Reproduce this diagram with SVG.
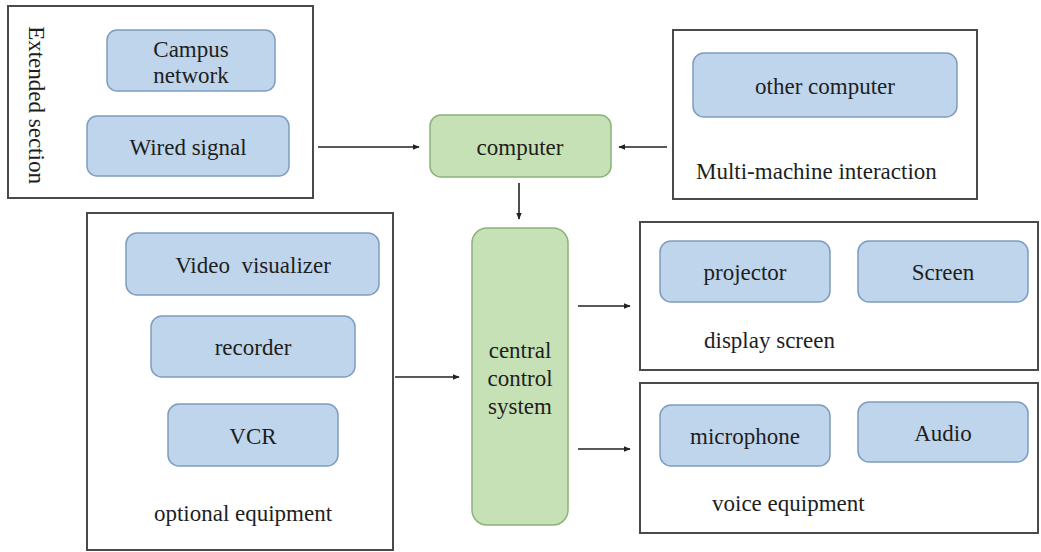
<svg xmlns="http://www.w3.org/2000/svg" width="1041" height="552" viewBox="0 0 1041 552" font-family="'Liberation Serif', 'Times New Roman', serif" font-size="23">
<defs>
<style>
.frame{fill:#fff;stroke:#4a4a4a;stroke-width:2}
.blue{fill:#bfd5ec;stroke:#7f9cc0;stroke-width:1.5}
.green{fill:#c6e1b6;stroke:#8cb37a;stroke-width:1.5}
.t{font-family:'Liberation Serif','Times New Roman',serif;font-size:23px;fill:#1e1e1e;text-anchor:middle;dominant-baseline:central}
.lbl{text-anchor:start}
.conn{stroke:#222;stroke-width:1.6;fill:none;marker-end:url(#ah)}
</style>
<marker id="ah" viewBox="0 0 10 10" refX="9" refY="5" markerWidth="7" markerHeight="7" orient="auto" markerUnits="userSpaceOnUse">
<path d="M0,1 L10,5 L0,9 z" fill="#222"/>
</marker>
</defs>
<rect width="1041" height="552" fill="#fff"/>
<g id="extended-section">
<rect class="frame" x="8" y="6" width="305" height="192"/>
<text class="t" transform="translate(36,105) rotate(90)">Extended section</text>
</g>
<g id="campus-network">
<rect class="blue" x="107" y="30" width="168" height="61" rx="10"/>
<text class="t" x="191" y="49">Campus</text>
<text class="t" x="191" y="75">network</text>
</g>
<g id="wired-signal">
<rect class="blue" x="87" y="116" width="202" height="60" rx="10"/>
<text class="t" x="188" y="147">Wired signal</text>
</g>
<g id="computer">
<rect class="green" x="430" y="115" width="181" height="62" rx="11"/>
<text class="t" x="520" y="147">computer</text>
</g>
<g id="multi-machine-interaction">
<rect class="frame" x="673" y="30" width="304" height="169"/>
<text class="t lbl" x="696" y="171">Multi-machine interaction</text>
</g>
<g id="other-computer">
<rect class="blue" x="693" y="53" width="264" height="64" rx="11"/>
<text class="t" x="825" y="86">other computer</text>
</g>
<g id="optional-equipment">
<rect class="frame" x="87" y="213" width="306" height="337"/>
<text class="t" x="243" y="513">optional equipment</text>
</g>
<g id="video-visualizer">
<rect class="blue" x="126" y="233" width="253" height="62" rx="11"/>
<text class="t" x="253" y="265" xml:space="preserve">Video  visualizer</text>
</g>
<g id="recorder">
<rect class="blue" x="151" y="316" width="204" height="61" rx="11"/>
<text class="t" x="253" y="347">recorder</text>
</g>
<g id="vcr">
<rect class="blue" x="168" y="404" width="170" height="62" rx="11"/>
<text class="t" x="253" y="436">VCR</text>
</g>
<g id="central-control-system">
<rect class="green" x="472" y="228" width="96" height="297" rx="15"/>
<text class="t" x="520" y="350">central</text>
<text class="t" x="520" y="378">control</text>
<text class="t" x="520" y="406">system</text>
</g>
<g id="display-screen">
<rect class="frame" x="640" y="222" width="398" height="148"/>
<text class="t lbl" x="704" y="340">display screen</text>
</g>
<g id="projector">
<rect class="blue" x="660" y="241" width="170" height="61" rx="11"/>
<text class="t" x="745" y="272">projector</text>
</g>
<g id="screen">
<rect class="blue" x="858" y="241" width="170" height="61" rx="11"/>
<text class="t" x="943" y="272">Screen</text>
</g>
<g id="voice-equipment">
<rect class="frame" x="640" y="383" width="398" height="150"/>
<text class="t lbl" x="712" y="503">voice equipment</text>
</g>
<g id="microphone">
<rect class="blue" x="660" y="405" width="170" height="61" rx="11"/>
<text class="t" x="745" y="436">microphone</text>
</g>
<g id="audio">
<rect class="blue" x="858" y="402" width="170" height="60" rx="11"/>
<text class="t" x="943" y="433">Audio</text>
</g>
<g id="connectors">
<line class="conn" x1="318" y1="147" x2="419" y2="147"/>
<line class="conn" x1="667" y1="147" x2="619" y2="147"/>
<line class="conn" x1="519" y1="183" x2="519" y2="219"/>
<line class="conn" x1="395" y1="377" x2="459" y2="377"/>
<line class="conn" x1="578" y1="306" x2="630" y2="306"/>
<line class="conn" x1="578" y1="449" x2="630" y2="449"/>
</g>
</svg>
